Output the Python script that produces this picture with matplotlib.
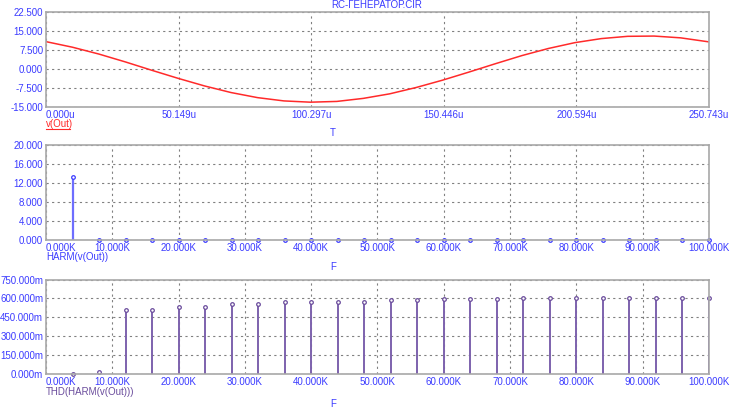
import matplotlib
matplotlib.use("Agg")
import matplotlib.pyplot as plt
from matplotlib.lines import Line2D

plt.rcParams['font.family'] = ['Liberation Sans', 'DejaVu Sans']

# transient: v(Out), time in microseconds
t_us = [0, 10, 20, 30, 40, 50, 60, 70, 80, 90, 100, 110, 120, 130, 140, 150,
        160, 170, 180, 190, 200, 210, 220, 230, 240, 250.743]
v_out = [10.8, 8.6, 5.9, 2.8, -0.5, -3.7, -6.7, -9.3, -11.3, -12.6, -13.1, -12.8,
         -11.6, -9.8, -7.3, -4.4, -1.2, 2.1, 5.3, 8.1, 10.4, 12.0, 12.9, 13.0, 12.3, 10.7]

# harmonics (kHz)
harm_f = [4, 8, 12, 16, 20, 24, 28, 32, 36, 40, 44, 48, 52, 56, 60, 64, 68, 72,
          76, 80, 84, 88, 92, 96, 100]
harm_v = [13.2, 0.06, 0.05, 0.05, 0.04, 0.04, 0.04, 0.03, 0.03, 0.03, 0.03, 0.03, 0.03,
          0.03, 0.03, 0.03, 0.03, 0.03, 0.03, 0.03, 0.03, 0.03, 0.03, 0.03, 0.03]
thd_m = [0, 12, 510, 510, 528, 528, 555, 555, 568, 568, 573, 573, 587, 587, 595,
         595, 598, 600, 600, 600, 600, 600, 600, 600, 600]

t_ticks = [0, 50.149, 100.297, 150.446, 200.594, 250.743]
f_ticks = [0, 10, 20, 30, 40, 50, 60, 70, 80, 90, 100]
v_ticks = [-15, -7.5, 0, 7.5, 15, 22.5]
h_ticks = [0, 4, 8, 12, 16, 20]
thd_ticks = [0, 150, 300, 450, 600, 750]

W, H = 732, 411
BLUE = '#3b3bff'
RED = '#ff2a2a'
PURPLE = '#6a4c9c'
FS = 7

fig = plt.figure(figsize=(W / 100, H / 100), dpi=100)


def make_ax(top, bottom):
    ax = fig.add_axes([46 / W, 1 - bottom / H, 663 / W, (bottom - top) / H])
    for s in ax.spines.values():
        s.set_color('#a8a8a8')
        s.set_linewidth(1.2)
    ax.grid(True, color='#808080', linestyle=(0, (2, 3)), linewidth=0.8)
    ax.set_axisbelow(True)
    ax.tick_params(length=0, labelsize=FS, labelcolor=BLUE, pad=2)
    return ax


def fx(x):
    return x / W


def fy(y):
    return 1 - y / H


# top panel
ax1 = make_ax(12, 107)
ax1.plot(t_us, v_out, color=RED, lw=1.1)
ax1.set_xlim(0, 250.743)
ax1.set_ylim(-15, 22.5)
ax1.set_xticks(t_ticks)
ax1.set_xticklabels(['%.3fu' % v for v in t_ticks])
ax1.set_yticks(v_ticks)
ax1.set_yticklabels(['%.3f' % v for v in v_ticks])
ax1.get_xticklabels()[0].set_ha('left')

# middle panel
ax2 = make_ax(145, 240)
ax2.vlines(harm_f, 0, harm_v, color='#6e6eff', lw=1.6)
ax2.plot(harm_f, harm_v, 'o', ms=2.6, mfc='white', mec='#3c3cff', mew=0.9, clip_on=False)
ax2.set_xlim(0, 100)
ax2.set_ylim(0, 20)
ax2.set_xticks(f_ticks)
ax2.set_xticklabels(['%.3fK' % v for v in f_ticks])
ax2.set_yticks(h_ticks)
ax2.set_yticklabels(['%.3f' % v for v in h_ticks])
ax2.get_xticklabels()[0].set_ha('left')

# bottom panel
ax3 = make_ax(279.5, 374)
ax3.vlines(harm_f, 0, thd_m, color='#7d62ad', lw=1.4)
ax3.plot(harm_f, thd_m, 'o', ms=2.6, mfc='white', mec=PURPLE, mew=0.9, clip_on=False)
ax3.set_xlim(0, 100)
ax3.set_ylim(0, 750)
ax3.set_xticks(f_ticks)
ax3.set_xticklabels(['%.3fK' % v for v in f_ticks])
ax3.set_yticks(thd_ticks)
ax3.set_yticklabels(['%.3fm' % v for v in thd_ticks])
ax3.get_xticklabels()[0].set_ha('left')

# texts
fig.text(fx(377), fy(5), 'RC-ГЕНЕРАТОР.CIR', color=BLUE, fontsize=FS, ha='center', va='center')
fig.text(fx(333), fy(133), 'T', color=BLUE, fontsize=FS, ha='center', va='center')
fig.text(fx(333), fy(267), 'F', color=BLUE, fontsize=FS, ha='center', va='center')
fig.text(fx(333), fy(404), 'F', color=BLUE, fontsize=FS, ha='center', va='center')
fig.text(fx(46), fy(124), 'v(Out)', color=RED, fontsize=FS, ha='left', va='center')
fig.add_artist(Line2D([fx(46), fx(70)], [fy(129), fy(129)], color=RED, lw=0.8))
fig.text(fx(46), fy(257), 'HARM(v(Out))', color=BLUE, fontsize=FS, ha='left', va='center')
fig.text(fx(46), fy(392), 'THD(HARM(v(Out)))', color=PURPLE, fontsize=FS, ha='left', va='center')

fig.savefig('out.png', dpi=100)
